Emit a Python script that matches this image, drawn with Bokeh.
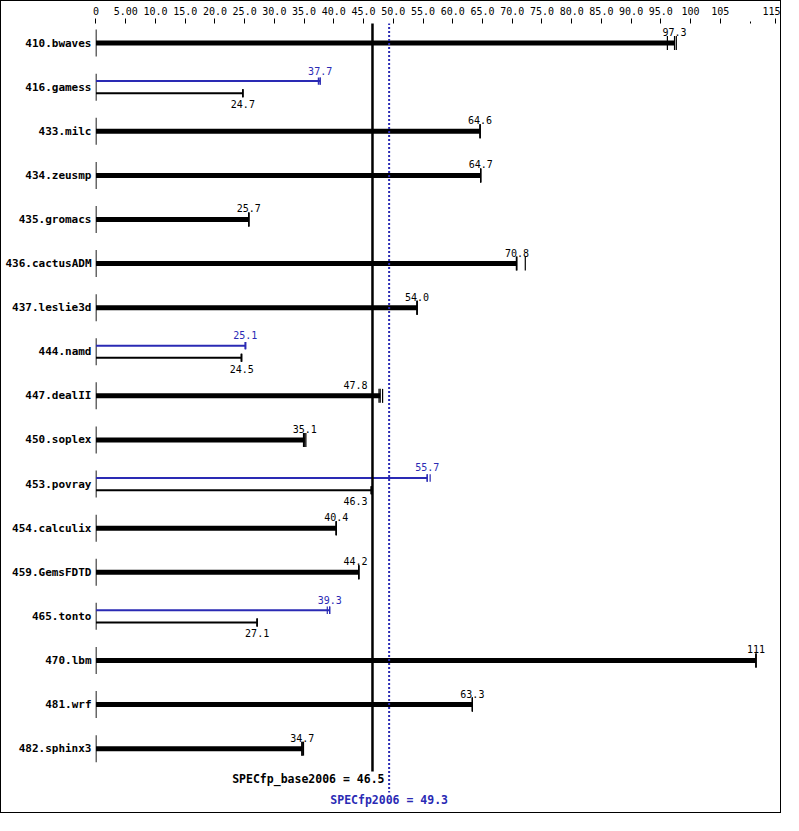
from bokeh.plotting import figure
from bokeh.models import Range1d, FixedTicker, ColumnDataSource
from bokeh.embed import file_html
from bokeh.resources import INLINE
from bokeh.core.properties import value

# ---------------- data ----------------
benchmarks = ["410.bwaves", "416.gamess", "433.milc", "434.zeusmp", "435.gromacs",
              "436.cactusADM", "437.leslie3d", "444.namd", "447.dealII", "450.soplex",
              "453.povray", "454.calculix", "459.GemsFDTD", "465.tonto", "470.lbm",
              "481.wrf", "482.sphinx3"]
base_runs = [[96.1, 97.3, 97.6], [24.7, 24.7, 24.7], [64.6, 64.6, 64.6], [64.7, 64.7, 64.7],
             [25.7, 25.7, 25.7], [70.7, 70.8, 72.2], [54.0, 54.0, 54.0], [24.4, 24.5, 24.5],
             [47.6, 47.8, 48.2], [34.9, 35.1, 35.3], [46.3, 46.3, 46.3], [40.4, 40.4, 40.4],
             [44.2, 44.2, 44.2], [27.1, 27.1, 27.1], [111, 111, 111], [63.3, 63.3, 63.3],
             [34.6, 34.7, 34.9]]
peak_runs = [None, [37.4, 37.7, 37.7], None, None, None, None, None, [25.1, 25.1, 25.2],
             None, None, [55.7, 55.7, 56.2], None, None, [38.9, 39.3, 39.3], None, None, None]
base_score = 46.5
peak_score = 49.3
base_label = "SPECfp_base2006 = 46.5"
peak_label = "SPECfp2006 = 49.3"
x_ticks = [0, 5, 10, 15, 20, 25, 30, 35, 40, 45, 50, 55, 60, 65, 70, 75, 80, 85, 90, 95, 100, 105, 114.3]
x_tick_labels = ["0", "5.00", "10.0", "15.0", "20.0", "25.0", "30.0", "35.0", "40.0", "45.0",
                 "50.0", "55.0", "60.0", "65.0", "70.0", "75.0", "80.0", "85.0", "90.0", "95.0",
                 "100", "105", "115"]
x_minor_ticks = [110]

# ---------------- style ----------------
BLUE = "#2a2ab4"
ROW_PX = 44.1          # pixels between rows
ROW0_PX = 42.6         # picture y of first row
MONO = "DejaVu Sans Mono"


def d(px):
    return px / ROW_PX


def ypix(py):
    # picture y (px) -> data y
    return (py - ROW0_PX) / ROW_PX


def med(v):
    return sorted(v)[len(v) // 2]


def fmt(v):
    return "%d" % round(v) if v >= 100 else "%.1f" % v


p = figure(width=781, height=813, output_backend="svg", toolbar_location=None,
           x_axis_location="above", x_range=Range1d(-0.084, 114.45),
           y_range=Range1d(17.493, -0.444),
           min_border_left=94, min_border_right=6, min_border_top=22, min_border_bottom=0)
p.styles = {"border": "1px solid black"}
p.outline_line_color = None
p.xgrid.visible = False
p.ygrid.visible = False
p.background_fill_color = "white"
p.border_fill_color = "white"

xa = p.xaxis[0]
xa.ticker = FixedTicker(ticks=x_ticks, minor_ticks=x_minor_ticks)
xa.major_label_overrides = {t: l for t, l in zip(x_ticks, x_tick_labels)}
xa.axis_line_color = None
xa.major_tick_in = 0
xa.major_tick_out = 5
xa.minor_tick_in = 0
xa.minor_tick_out = 2
xa.major_label_standoff = 4
xa.major_label_text_font = MONO
xa.major_label_text_font_size = "10px"
xa.major_label_text_color = "black"
xa.major_tick_line_color = "black"

ya = p.yaxis[0]
ya.ticker = FixedTicker(ticks=list(range(len(benchmarks))))
ya.major_label_overrides = {i: n for i, n in enumerate(benchmarks)}
ya.axis_line_color = None
ya.major_tick_in = 0
ya.major_tick_out = 0
ya.minor_tick_in = 0
ya.minor_tick_out = 0
ya.major_label_standoff = 4
ya.major_label_text_font = MONO
ya.major_label_text_font_size = "11px"
ya.major_label_text_font_style = "bold"
ya.major_label_text_color = "black"

# row markers at x = 0
n = len(benchmarks)
p.segment(x0=[0] * n, x1=[0] * n, y0=[i - d(13.5) for i in range(n)],
          y1=[i + d(13.5) for i in range(n)], line_color="black", line_width=1.2)

# build series
thick = dict(x0=[], y=[], x1=[])
thick_ticks = dict(x=[], y0=[], y1=[])
thin_b = dict(x0=[], y=[], x1=[])
thin_p = dict(x0=[], y=[], x1=[])
tb_ticks = dict(x=[], y0=[], y1=[])
tp_ticks = dict(x=[], y0=[], y1=[])
lbl_c = dict(x=[], y=[], t=[])      # centred black labels
lbl_r = dict(x=[], y=[], t=[])      # black labels pushed left of the base line
lbl_p = dict(x=[], y=[], t=[])


def add_black_label(xv, yv):
    if xv + 2.2 > base_score - 0.7 and xv - 2.2 < base_score + 0.5:
        lbl_r["x"].append(base_score); lbl_r["y"].append(yv); lbl_r["t"].append(fmt(xv))
    else:
        lbl_c["x"].append(xv); lbl_c["y"].append(yv); lbl_c["t"].append(fmt(xv))


for i, (b, pk) in enumerate(zip(base_runs, peak_runs)):
    mb = med(b)
    if pk is None:
        thick["x0"].append(0); thick["x1"].append(mb); thick["y"].append(i)
        for r in b:
            thick_ticks["x"].append(r); thick_ticks["y0"].append(i - d(7)); thick_ticks["y1"].append(i + d(7))
        add_black_label(mb, i - d(11))
    else:
        mp = med(pk)
        yb = i + d(6.1)
        yp = i - d(6.1)
        thin_b["x0"].append(0); thin_b["x1"].append(mb); thin_b["y"].append(yb)
        thin_p["x0"].append(0); thin_p["x1"].append(mp); thin_p["y"].append(yp)
        for r in b:
            tb_ticks["x"].append(r); tb_ticks["y0"].append(yb - d(4)); tb_ticks["y1"].append(yb + d(4))
        for r in pk:
            tp_ticks["x"].append(r); tp_ticks["y0"].append(yp - d(3.7)); tp_ticks["y1"].append(yp + d(3.7))
        add_black_label(mb, yb + d(11))
        lbl_p["x"].append(mp); lbl_p["y"].append(yp - d(10.5)); lbl_p["t"].append(fmt(mp))

p.segment(x0="x0", x1="x1", y0="y", y1="y", source=ColumnDataSource(thick),
          line_color="black", line_width=5, line_cap="butt")
p.segment(x0="x", x1="x", y0="y0", y1="y1", source=ColumnDataSource(thick_ticks),
          line_color="black", line_width=1.2)
p.segment(x0="x0", x1="x1", y0="y", y1="y", source=ColumnDataSource(thin_b),
          line_color="black", line_width=2, line_cap="butt")
p.segment(x0="x0", x1="x1", y0="y", y1="y", source=ColumnDataSource(thin_p),
          line_color=BLUE, line_width=2, line_cap="butt")
p.segment(x0="x", x1="x", y0="y0", y1="y1", source=ColumnDataSource(tb_ticks),
          line_color="black", line_width=1.2)
p.segment(x0="x", x1="x", y0="y0", y1="y1", source=ColumnDataSource(tp_ticks),
          line_color=BLUE, line_width=1.2)

for src, col, align, off in ((lbl_c, "black", "center", 0), (lbl_r, "black", "right", -5),
                             (lbl_p, BLUE, "center", 0)):
    p.text(x="x", y="y", text="t", source=ColumnDataSource(src), text_color=col,
           text_font=value(MONO), text_font_size="10px", text_align=align,
           text_baseline="middle", x_offset=off)

# score reference lines
p.segment(x0=[base_score], x1=[base_score], y0=[-1], y1=[ypix(771)],
          line_color="black", line_width=2.5)
p.segment(x0=[peak_score], x1=[peak_score], y0=[-1], y1=[ypix(792)],
          line_color=BLUE, line_width=2, line_dash="2 2")
p.text(x=[base_score], y=[ypix(779)], text=[base_label], x_offset=12,
       text_color="black", text_font=value(MONO), text_font_size="11.5px",
       text_font_style="bold", text_align="right", text_baseline="middle")
p.text(x=[peak_score], y=[ypix(800)], text=[peak_label],
       text_color=BLUE, text_font=value(MONO), text_font_size="11.5px",
       text_font_style="bold", text_align="center", text_baseline="middle")

open("out.html", "w").write(file_html(p, INLINE))
